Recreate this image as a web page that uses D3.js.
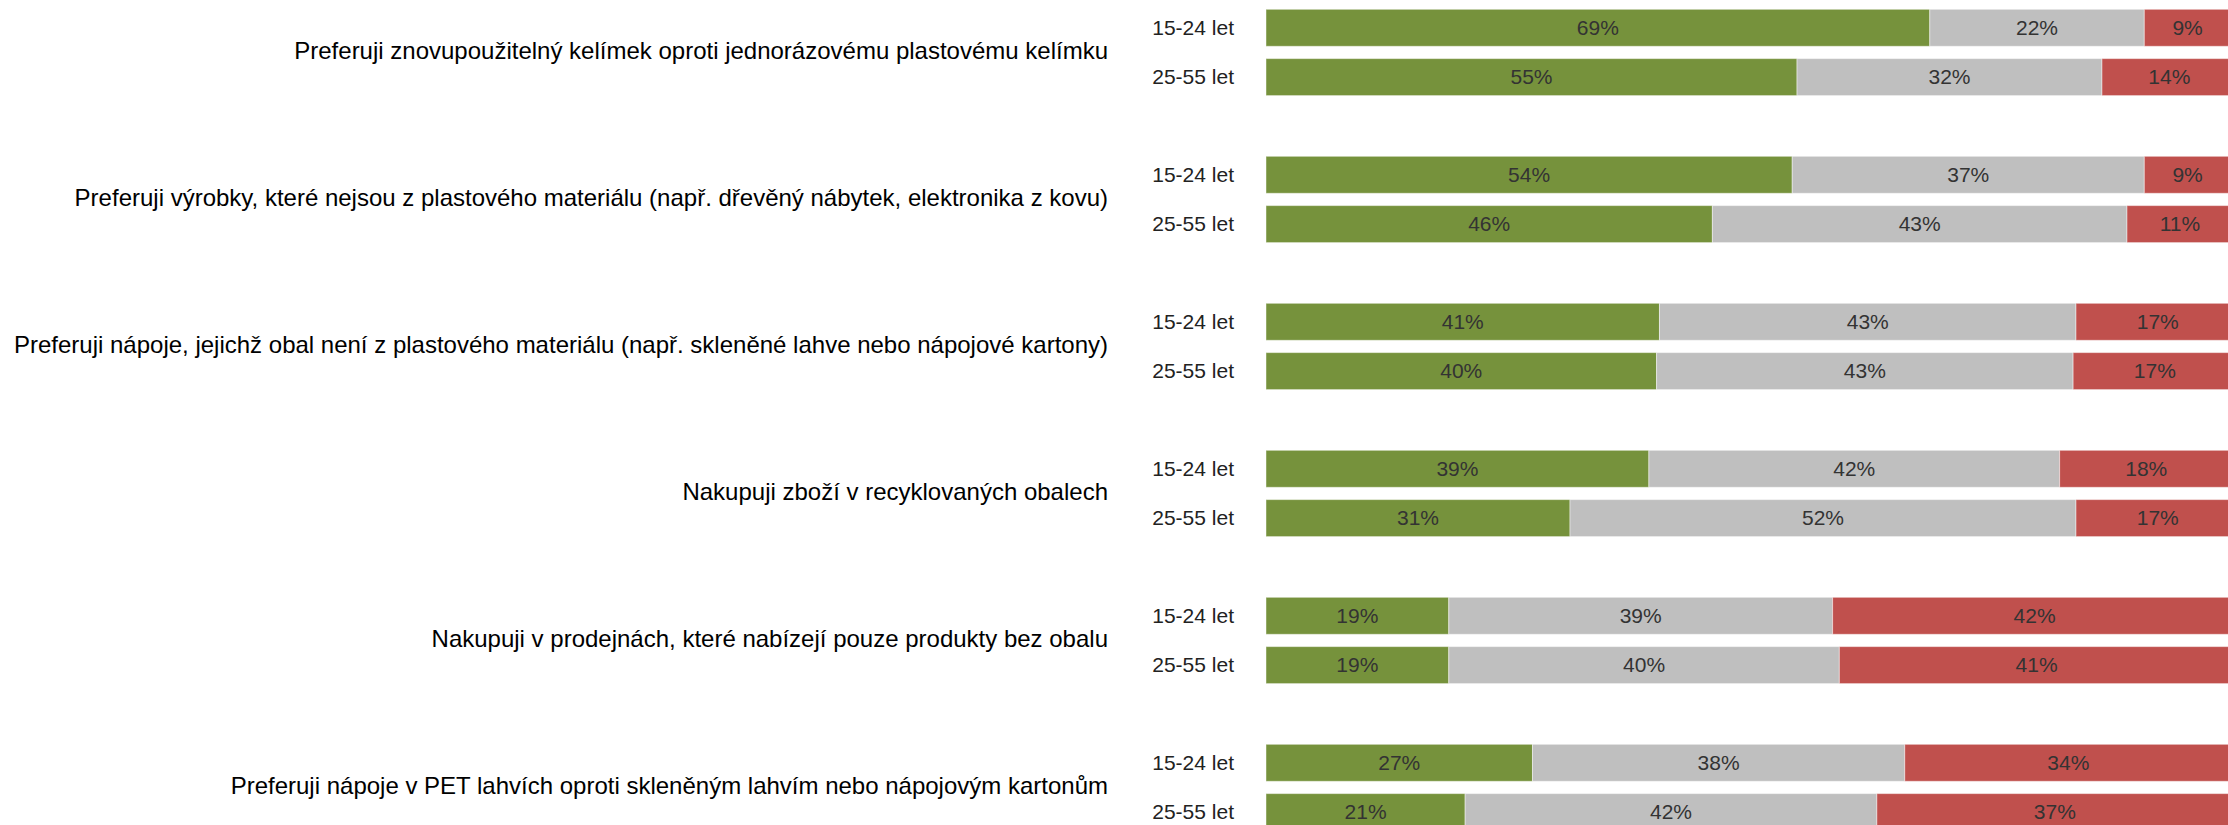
<!DOCTYPE html>
<html>
<head>
    <meta charset="utf-8">
    <script src="https://d3js.org/d3.v7.min.js"></script>
    <style type="text/css">
        body { margin: 0; background: #fff; }
        svg { display: block; }
    </style>
</head>
<body>
    <script type="text/javascript">

        // otázky (kategorie)
        var questions = [
            "Preferuji znovupoužitelný kelímek oproti jednorázovému plastovému kelímku",
            "Preferuji výrobky, které nejsou z plastového materiálu (např. dřevěný nábytek, elektronika z kovu)",
            "Preferuji nápoje, jejichž obal není z plastového materiálu (např. skleněné lahve nebo nápojové kartony)",
            "Nakupuji zboží v recyklovaných obalech",
            "Nakupuji v prodejnách, které nabízejí pouze produkty bez obalu",
            "Preferuji nápoje v PET lahvích oproti skleněným lahvím nebo nápojovým kartonům"
        ];

        // věkové skupiny
        var ages = ["15-24 let", "25-55 let"];

        // délky úseků v % (nezaokrouhleno)
        var agree15 = [69.0, 54.7, 40.9, 39.8, 19.0, 27.7];
        var neutral15 = [22.3, 36.6, 43.3, 42.7, 39.9, 38.7];
        var disagree15 = [9, 9, 17, 18, 42, 34];

        var agree25 = [55.2, 46.4, 40.6, 31.6, 19.0, 20.7];
        var neutral25 = [31.7, 43.1, 43.3, 52.6, 40.6, 42.8];
        var disagree25 = [14, 11, 17, 17, 41, 37];

        // zobrazené popisky (zaokrouhlená procenta)
        var agreeLabel15 = [69, 54, 41, 39, 19, 27];
        var neutralLabel15 = [22, 37, 43, 42, 39, 38];
        var agreeLabel25 = [55, 46, 40, 31, 19, 21];
        var neutralLabel25 = [32, 43, 43, 52, 40, 42];

        var keys = ["agree", "neutral", "disagree"];
        var colors = ["#76923c", "#bfbfbf", "#c0504d"];

        // tabulka pro d3.stack
        var rows = [];
        questions.forEach(function(q, i) {
            rows.push({ q: i, age: ages[0],
                agree: agree15[i], neutral: neutral15[i], disagree: disagree15[i],
                labels: { agree: agreeLabel15[i], neutral: neutralLabel15[i], disagree: disagree15[i] } });
            rows.push({ q: i, age: ages[1],
                agree: agree25[i], neutral: neutral25[i], disagree: disagree25[i],
                labels: { agree: agreeLabel25[i], neutral: neutralLabel25[i], disagree: disagree25[i] } });
        });

        var w = 2228;
        var h = 825;

        var svg = d3.select("body")
            .append("svg")
            .attr("width", w)
            .attr("height", h)
            .style("font-family", "'Liberation Sans', Arial, sans-serif");

        var xScale = d3.scaleLinear()
            .domain([0, 100])
            .range([1266, 2228]);

        // y: skupiny otázek a v nich věkové skupiny
        var yGroup = d3.scaleBand()
            .domain(d3.range(questions.length))
            .range([9.3, 830.6])
            .paddingInner(0.413)
            .paddingOuter(0);

        var yAge = d3.scaleBand()
            .domain(ages)
            .range([0, yGroup.bandwidth()])
            .paddingInner(0.25)
            .paddingOuter(0);

        var color = d3.scaleOrdinal().domain(keys).range(colors);

        var series = d3.stack().keys(keys)(rows);

        function rowY(d) {
            return yGroup(d.data.q) + yAge(d.data.age);
        }

        var layers = svg.selectAll("g.layer")
            .data(series)
            .enter()
            .append("g")
            .attr("class", "layer")
            .attr("fill", function(s) { return color(s.key); });

        layers.selectAll("rect")
            .data(function(s) { return s; })
            .enter()
            .append("rect")
            .attr("x", function(d) { return xScale(d[0]); })
            .attr("y", rowY)
            .attr("width", function(d) { return xScale(d[1]) - xScale(d[0]); })
            .attr("height", yAge.bandwidth())
            .attr("stroke", "#ffffff")
            .attr("stroke-opacity", 0.45)
            .attr("stroke-width", 1);

        // popisky procent
        layers.selectAll("text")
            .data(function(s) { return s.map(function(d) { d.key = s.key; return d; }); })
            .enter()
            .append("text")
            .attr("x", function(d) { return (xScale(d[0]) + xScale(d[1])) / 2; })
            .attr("y", function(d) { return rowY(d) + yAge.bandwidth() / 2; })
            .attr("dy", "0.35em")
            .attr("text-anchor", "middle")
            .attr("fill", "#333333")
            .style("font-size", "21px")
            .text(function(d) { return d.data.labels[d.key] + "%"; });

        // věkové popisky
        svg.append("g")
            .selectAll("text")
            .data(rows)
            .enter()
            .append("text")
            .attr("x", 1234)
            .attr("y", function(d) { return yGroup(d.q) + yAge(d.age) + yAge.bandwidth() / 2; })
            .attr("dy", "0.35em")
            .attr("text-anchor", "end")
            .attr("fill", "#222222")
            .style("font-size", "21px")
            .text(function(d) { return d.age; });

        // otázky vlevo
        svg.append("g")
            .selectAll("text")
            .data(questions)
            .enter()
            .append("text")
            .attr("x", 1108)
            .attr("y", function(d, i) { return yGroup(i) + yGroup.bandwidth() / 2 - 2; })
            .attr("dy", "0.35em")
            .attr("text-anchor", "end")
            .attr("fill", "#000000")
            .style("font-size", "24px")
            .text(function(d) { return d; });

    </script>
</body>
</html>
